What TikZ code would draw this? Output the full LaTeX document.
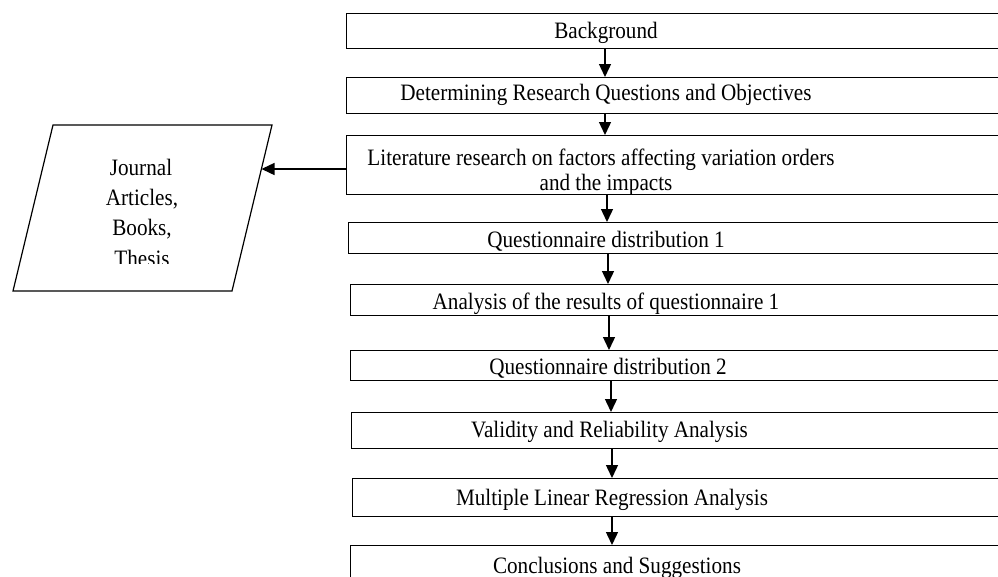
\documentclass[tikz,border=0pt]{standalone}
\usepackage{fontspec}
\setmainfont[FakeStretch=0.9]{Liberation Serif}
\usetikzlibrary{arrows.meta}
\begin{document}
\begin{tikzpicture}[x=1pt,y=-1pt,
  box/.style={draw, line width=1.2pt, inner sep=0pt, anchor=north west},
  lbl/.style={anchor=base, inner sep=0pt, font=\fontsize{23.5}{28}\selectfont},
  flow/.style={line width=1.4pt, -{Triangle[width=12pt,length=13pt]}}]
\clip (0,0) rectangle (998,576);
\useasboundingbox (0,0) rectangle (998,576);
% boxes
\node[box, minimum width=660pt, minimum height=35pt] (b1) at (346,13) {};
\node[box, minimum width=660pt, minimum height=36pt] (b2) at (346,77) {};
\node[box, minimum width=660pt, minimum height=59pt] (b3) at (346,135) {};
\node[box, minimum width=660pt, minimum height=31pt] (b4) at (348,222) {};
\node[box, minimum width=660pt, minimum height=31pt] (b5) at (350,284) {};
\node[box, minimum width=660pt, minimum height=30pt] (b6) at (350,350) {};
\node[box, minimum width=660pt, minimum height=36pt] (b7) at (351,412) {};
\node[box, minimum width=660pt, minimum height=38pt] (b8) at (352,478) {};
\node[box, minimum width=660pt, minimum height=40pt] (b9) at (350,545) {};
% texts
\node[lbl] (t1) at (606,38) {Background};
\node[lbl] (t2) at (606,100) {Determining Research Questions and Objectives};
\node[lbl] (t3a) at (601,165) {Literature research on factors affecting variation orders};
\node[lbl] (t3b) at (606,190) {and the impacts};
\node[lbl] (t4) at (606,247) {Questionnaire distribution 1};
\node[lbl] (t5) at (606,309) {Analysis of the results of questionnaire 1};
\node[lbl] (t6) at (608,374) {Questionnaire distribution 2};
\node[lbl] (t7) at (609.5,437) {Validity and Reliability Analysis};
\node[lbl] (t8) at (612,505) {Multiple Linear Regression Analysis};
\node[lbl] (t9) at (617,573) {Conclusions and Suggestions};
% arrows
\draw[flow] (b1.south -| 605,0) -- (b2.north -| 605,0);
\draw[flow] (b2.south -| 605,0) -- (b3.north -| 605,0);
\draw[flow] (b3.south -| 607,0) -- (b4.north -| 607,0);
\draw[flow] (b4.south -| 608,0) -- (b5.north -| 608,0);
\draw[flow] (b5.south -| 609,0) -- (b6.north -| 609,0);
\draw[flow] (b6.south -| 611,0) -- (b7.north -| 611,0);
\draw[flow] (b7.south -| 612,0) -- (b8.north -| 612,0);
\draw[flow] (b8.south -| 612,0) -- (b9.north -| 612,0);
% parallelogram
\draw[line width=1.2pt] (53,125) -- (272,125) -- (232,291) -- (13,291) -- cycle;
\coordinate (jr) at (261.5,169);
\begin{scope}
\clip (0,120) rectangle (300,263);
\node[lbl] (j1) at (141,175) {Journal};
\node[lbl] (j2) at (142,205) {Articles,};
\node[lbl] (j3) at (142,235) {Books,};
\node[lbl] (j4) at (142,266) {Thesis};
\end{scope}
\draw[flow] (b3.west |- jr) -- (jr);
\end{tikzpicture}
\end{document}
